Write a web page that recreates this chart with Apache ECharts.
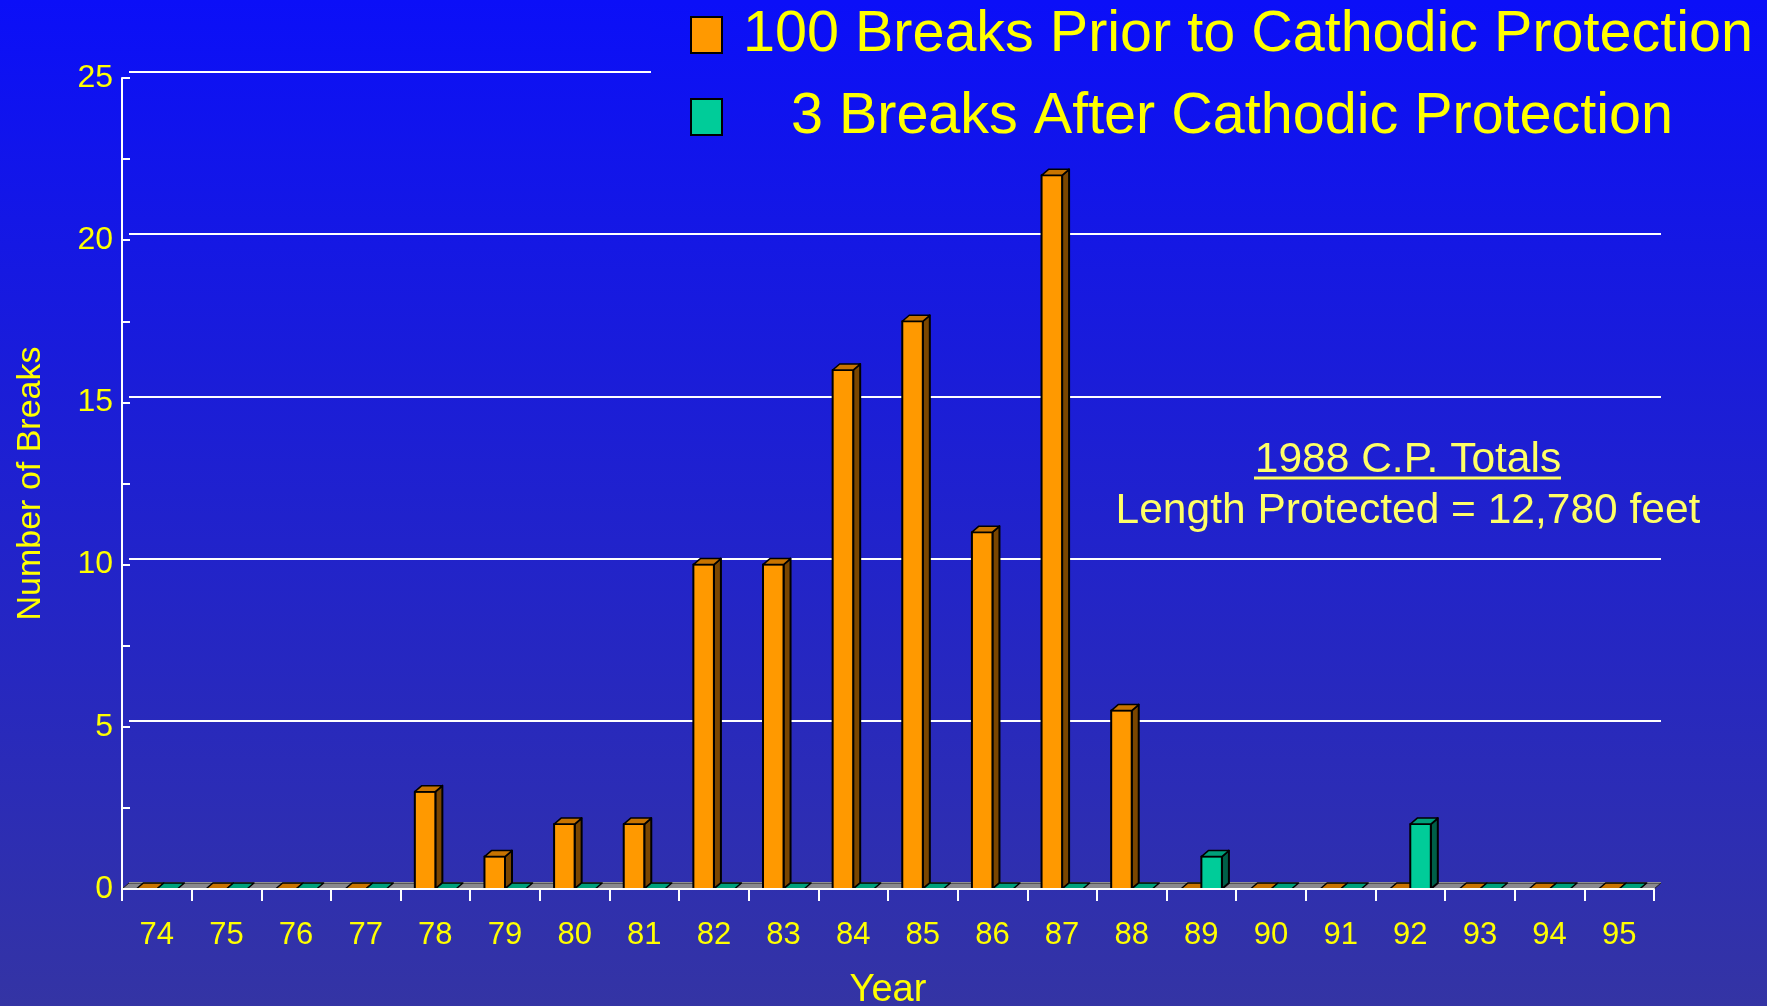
<!DOCTYPE html>
<html>
<head>
<meta charset="utf-8">
<title>Breaks before and after cathodic protection</title>
<script src="https://cdn.jsdelivr.net/npm/echarts@6/dist/echarts.min.js"></script>
<style>
  html, body { margin: 0; padding: 0; }
  #chart { width: 1767px; height: 1006px; }
</style>
</head>
<body>
<div id="chart"></div>
<script>
// data
const years = ['74', '75', '76', '77', '78', '79', '80', '81', '82', '83', '84',
  '85', '86', '87', '88', '89', '90', '91', '92', '93', '94', '95'];
const priorBreaks = [0, 0, 0, 0, 3, 1, 2, 2, 10, 10, 16, 17.5, 11, 22, 5.5, 0, 0, 0, 0, 0, 0, 0];
const afterBreaks = [0, 0, 0, 0, 0, 0, 0, 0, 0, 0, 0, 0, 0, 0, 0, 1, 0, 0, 2, 0, 0, 0];
const yTicks = [0, 5, 10, 15, 20, 25];

const priorName = '100 Breaks Prior to Cathodic Protection';
const afterName = '3 Breaks After Cathodic Protection';

const FONT = '"Liberation Sans", Arial, sans-serif';
const DX = 7, DY = 6;        // fake 3d depth
const BAR_RATIO = 0.295;     // bar width / category width

const bgStops = [
  { offset: 0, color: '#0b0ff8' },
  { offset: 1, color: '#3434a4' }
];

// 3d looking bar: front face, side, top
function bar3d(side, front, topColor, sideColor) {
  return function (params, api) {
    const idx = api.value(0);
    const val = api.value(1);
    const base = api.coord([idx, 0]);
    const top = api.coord([idx, val]);
    const w = api.size([1, 0])[0] * BAR_RATIO;
    const x0 = side === 'left' ? base[0] - w : base[0];
    const x1 = x0 + w;
    const line = { stroke: '#000', lineWidth: 2, lineJoin: 'round' };
    const children = [];
    if (val > 0) {
      children.push({
        type: 'polygon',
        shape: { points: [[x1, top[1]], [x1 + DX, top[1] - DY], [x1 + DX, base[1] - DY], [x1, base[1]]] },
        style: Object.assign({ fill: sideColor }, line)
      });
      children.push({
        type: 'rect',
        shape: { x: x0, y: top[1], width: w, height: base[1] - top[1] },
        style: Object.assign({ fill: front }, line)
      });
    }
    children.push({
      type: 'polygon',
      shape: { points: [[x0, top[1]], [x0 + DX, top[1] - DY], [x1 + DX, top[1] - DY], [x1, top[1]]] },
      style: Object.assign({ fill: topColor }, line, { lineWidth: 1.5 })
    });
    return { type: 'group', children: children };
  };
}

// grey floor under the bars
function floor(params, api) {
  const band = api.size([1, 0])[0];
  const l = api.coord([0, 0]);
  const r = api.coord([years.length - 1, 0]);
  const xl = l[0] - band / 2, xr = r[0] + band / 2, y = l[1];
  return {
    type: 'polygon',
    shape: { points: [[xl, y], [xl + DX, y - DY], [xr + DX, y - DY], [xr, y]] },
    style: { fill: '#8a8a8e', stroke: '#222', lineWidth: 1 }
  };
}

const chart = echarts.init(document.getElementById('chart'));

const option = {
  backgroundColor: { type: 'linear', x: 0, y: 0, x2: 0, y2: 1, colorStops: bgStops },
  textStyle: { fontFamily: FONT },
  legend: {
    orient: 'vertical',
    left: 651,
    top: 0,
    padding: [3, 20, 10, 39],
    itemGap: 18,
    itemWidth: 31,
    itemHeight: 36,
    icon: 'rect',
    backgroundColor: { type: 'linear', x: 0, y: 0, x2: 0, y2: 1006, global: true, colorStops: bgStops },
    itemStyle: { borderColor: '#000', borderWidth: 2 },
    data: [priorName, afterName],
    formatter: function (name) { return name === afterName ? '   ' + name : name; },
    textStyle: { color: '#ffff00', fontSize: 57.5, lineHeight: 58, padding: [6, 0, 0, 16], fontFamily: FONT },
    selectedMode: false
  },
  grid: [
    { left: 122, right: 113, top: 78, bottom: 117, outerBoundsMode: 'none' },
    // back wall for the grid lines
    { left: 122 + DX, right: 113 - DX, top: 78 - DY, bottom: 117 + DY, outerBoundsMode: 'none' }
  ],
  xAxis: [{
    type: 'category',
    data: years,
    gridIndex: 0,
    z: 10,
    name: 'Year',
    nameLocation: 'middle',
    nameGap: 83,
    nameTextStyle: { color: '#ffff00', fontSize: 38, fontFamily: FONT },
    axisLine: { lineStyle: { color: '#fff', width: 2 } },
    axisTick: { show: true, length: 12, interval: 0, lineStyle: { color: '#fff', width: 2 } },
    axisLabel: { color: '#ffff00', fontSize: 31, margin: 31, interval: 0, fontFamily: FONT },
    splitLine: { show: false }
  }, {
    type: 'value',
    gridIndex: 1,
    min: 0,
    max: 1,
    show: false
  }],
  yAxis: [{
    type: 'value',
    gridIndex: 0,
    min: yTicks[0],
    max: yTicks[yTicks.length - 1],
    interval: 5,
    z: 10,
    name: 'Number of Breaks',
    nameLocation: 'middle',
    nameRotate: 90,
    nameGap: 74,
    nameTextStyle: { color: '#ffff00', fontSize: 34, fontFamily: FONT },
    axisLine: { show: true, lineStyle: { color: '#fff', width: 2 } },
    axisTick: { show: true, inside: true, length: 8, lineStyle: { color: '#fff', width: 2 } },
    minorTick: { show: true, splitNumber: 2, length: 8, lineStyle: { color: '#fff', width: 2 } },
    axisLabel: { color: '#ffff00', fontSize: 32, margin: 9, fontFamily: FONT },
    splitLine: { show: false }
  }, {
    type: 'value',
    gridIndex: 1,
    min: yTicks[0],
    max: yTicks[yTicks.length - 1],
    interval: 5,
    axisLine: { show: false },
    axisTick: { show: false },
    axisLabel: { show: false },
    splitLine: { show: true, lineStyle: { color: '#fff', width: 2 } }
  }],
  graphic: [
    {
      type: 'text', x: 1408, y: 460,
      style: { text: '1988 C.P. Totals', fill: '#ffff66', font: '42.5px ' + FONT, align: 'center', verticalAlign: 'middle' }
    },
    {
      type: 'line',
      shape: { x1: 1254, y1: 478, x2: 1561, y2: 478 },
      style: { stroke: '#ffff66', lineWidth: 3 }
    },
    {
      type: 'text', x: 1408, y: 511,
      style: { text: 'Length Protected = 12,780 feet', fill: '#ffff66', font: '42.5px ' + FONT, align: 'center', verticalAlign: 'middle' }
    }
  ],
  series: [
    {
      name: 'floor',
      type: 'custom',
      xAxisIndex: 0,
      yAxisIndex: 0,
      z: 3,
      silent: true,
      renderItem: floor,
      data: [[0, 0]]
    },
    {
      name: priorName,
      type: 'custom',
      xAxisIndex: 0,
      yAxisIndex: 0,
      z: 4,
      itemStyle: { color: '#ff9900' },
      renderItem: bar3d('left', '#ff9900', '#c87400', '#7a4600'),
      encode: { x: 0, y: 1 },
      data: years.map((y, i) => [i, priorBreaks[i]])
    },
    {
      name: afterName,
      type: 'custom',
      xAxisIndex: 0,
      yAxisIndex: 0,
      z: 5,
      itemStyle: { color: '#00cc99' },
      renderItem: bar3d('right', '#00cc99', '#00a07a', '#005f48'),
      encode: { x: 0, y: 1 },
      data: years.map((y, i) => [i, afterBreaks[i]])
    }
  ]
};

chart.setOption(option);
</script>
</body>
</html>
